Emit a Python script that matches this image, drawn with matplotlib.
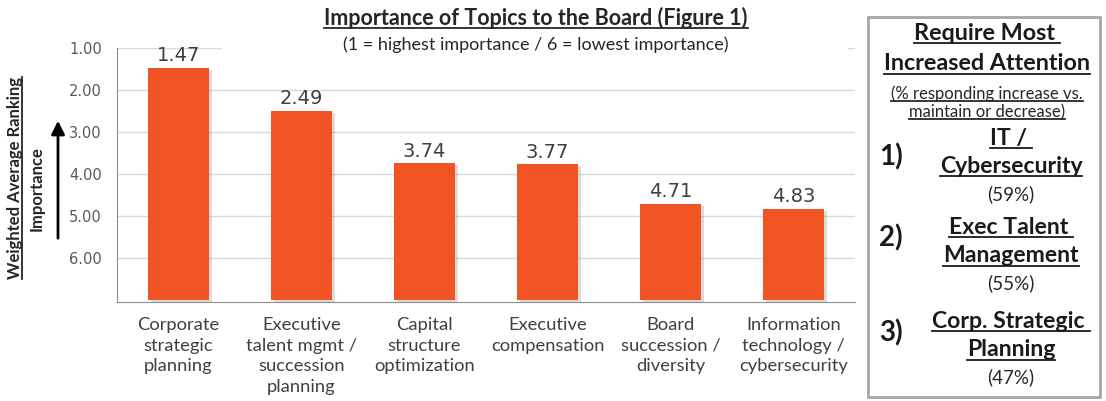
import matplotlib
matplotlib.use("Agg")
import matplotlib.pyplot as plt
import matplotlib.patheffects as pe
from matplotlib.patches import Rectangle
from matplotlib.lines import Line2D

# данные
categories = ["Corporate\nstrategic\nplanning",
              "Executive\ntalent mgmt /\nsuccession\nplanning",
              "Capital\nstructure\noptimization",
              "Executive\ncompensation",
              "Board\nsuccession /\ndiversity",
              "Information\ntechnology /\ncybersecurity"]
values = [1.47, 2.49, 3.74, 3.77, 4.71, 4.83]
y_ticks = [1, 2, 3, 4, 5, 6]
y_tick_labels = ["1.00", "2.00", "3.00", "4.00", "5.00", "6.00"]

rank_no = ["1)", "2)", "3)"]
rank_topic = [["IT / ", "Cybersecurity"],
              ["Exec Talent ", "Management"],
              ["Corp. Strategic ", "Planning"]]
rank_pct = ["(59%)", "(55%)", "(47%)"]

plt.rcParams["font.family"] = ["Lato", "DejaVu Sans"]

W, H = 1106, 401
fig = plt.figure(figsize=(W / 100, H / 100), dpi=100)
ax = fig.add_axes([117 / W, 1 - 302 / H, 738 / W, 254 / H])

BAR = "#F05423"
base = 7.0
x = list(range(len(values)))
bars = ax.bar(x, [v - base for v in values], bottom=base, width=0.5, color=BAR, zorder=3)
for b in bars:
    b.set_path_effects([pe.SimplePatchShadow(offset=(2, -1.5), shadow_rgbFace="#8c8c8c", alpha=0.3),
                        pe.Normal()])

for xi, v in zip(x, values):
    ax.text(xi, v - 0.06, f"{v:.2f}", ha="center", va="bottom", fontsize=14,
            family="DejaVu Sans", color="#404040")

ax.set_ylim(7.05, 1.0)
ax.set_xlim(-0.5, len(values) - 0.5)
ax.set_yticks(y_ticks)
ax.set_yticklabels(y_tick_labels, fontsize=10.5, family="DejaVu Sans", color="#595959")
ax.set_xticks(x)
ax.set_xticklabels(categories, fontsize=13.2, color="#404040", linespacing=1.35, va="top")
ax.tick_params(axis="both", length=0)
ax.tick_params(axis="y", pad=11)
ax.tick_params(axis="x", pad=11)
ax.grid(axis="y", color="#d9d9d9", linewidth=1, zorder=0)
for s in ["top", "right"]:
    ax.spines[s].set_visible(False)
ax.spines["left"].set_color("#8c8c8c")
ax.spines["bottom"].set_color("#8c8c8c")

# белая подложка под подзаголовком (скрывает верхнюю линию сетки)
fig.patches.append(Rectangle((222 / W, 1 - 56 / H), 626 / W, 14 / H, transform=fig.transFigure,
                             facecolor="white", edgecolor="none", zorder=1))

def fx(px):
    return px / W

def fy(py):
    return 1 - py / H

underlined = []
title = fig.text(fx(536), fy(18), "Importance of Topics to the Board (Figure 1)", ha="center",
                 va="center", fontsize=15.5, fontweight="bold", color="#262626", zorder=2)
underlined.append(title)
fig.text(fx(536), fy(45), "(1 = highest importance / 6 = lowest importance)", ha="center",
         va="center", fontsize=13, color="#262626", zorder=2)

ylab = fig.text(fx(15), fy(178), "Weighted Average Ranking", rotation=90, ha="center", va="center",
                fontsize=12, fontweight="bold", color="#262626")
fig.text(fx(37), fy(189), "Importance", rotation=90, ha="center", va="center",
         fontsize=12, fontweight="bold", color="#262626")
fig.add_artist(matplotlib.patches.FancyArrowPatch((fx(58), fy(241)), (fx(58), fy(118)),
                                                  transform=fig.transFigure, arrowstyle="-|>",
                                                  mutation_scale=20, lw=2, color="black"))

# правая панель
fig.patches.append(Rectangle((fx(868), fy(397)), (1100 - 868) / W, 380 / H, transform=fig.transFigure,
                             facecolor="white", edgecolor="#a6a6a6", linewidth=2))
cx = fx(987)
underlined.append(fig.text(cx, fy(33), "Require Most ", ha="center", va="center", fontsize=16.8,
                           fontweight="bold", color="#1a1a1a"))
underlined.append(fig.text(cx, fy(64), "Increased Attention", ha="center", va="center", fontsize=16.8,
                           fontweight="bold", color="#1a1a1a"))
underlined.append(fig.text(cx, fy(94), "(% responding increase vs.", ha="center", va="center",
                           fontsize=12, color="#262626"))
underlined.append(fig.text(cx, fy(112), "maintain or decrease)", ha="center", va="center",
                           fontsize=12, color="#262626"))

num_y = [157, 238, 333]
top_y = [138, 227, 321]
for i in range(3):
    fig.text(fx(891), fy(num_y[i]), rank_no[i], ha="center", va="center", fontsize=20,
             fontweight="bold", color="#1a1a1a")
    for j, line in enumerate(rank_topic[i]):
        underlined.append(fig.text(fx(1011), fy(top_y[i] + 29 * j), line, ha="center", va="center",
                                   fontsize=16.6, fontweight="bold", color="#1a1a1a"))
    fig.text(fx(1011), fy(top_y[i] + 56), rank_pct[i], ha="center", va="center", fontsize=13.5,
             color="#262626")

# подчёркивания
fig.canvas.draw()
r = fig.canvas.get_renderer()
for t in underlined:
    bb = t.get_window_extent(r)
    yy = bb.y0 + 1
    fig.add_artist(Line2D([bb.x0 / W, bb.x1 / W], [yy / H, yy / H], transform=fig.transFigure,
                          color=t.get_color(), lw=1.3))
bb = ylab.get_window_extent(r)
fig.add_artist(Line2D([(bb.x1 - 1) / W] * 2, [bb.y0 / H, bb.y1 / H], transform=fig.transFigure,
                      color="#262626", lw=1.3))

fig.savefig("out.png", dpi=100)
